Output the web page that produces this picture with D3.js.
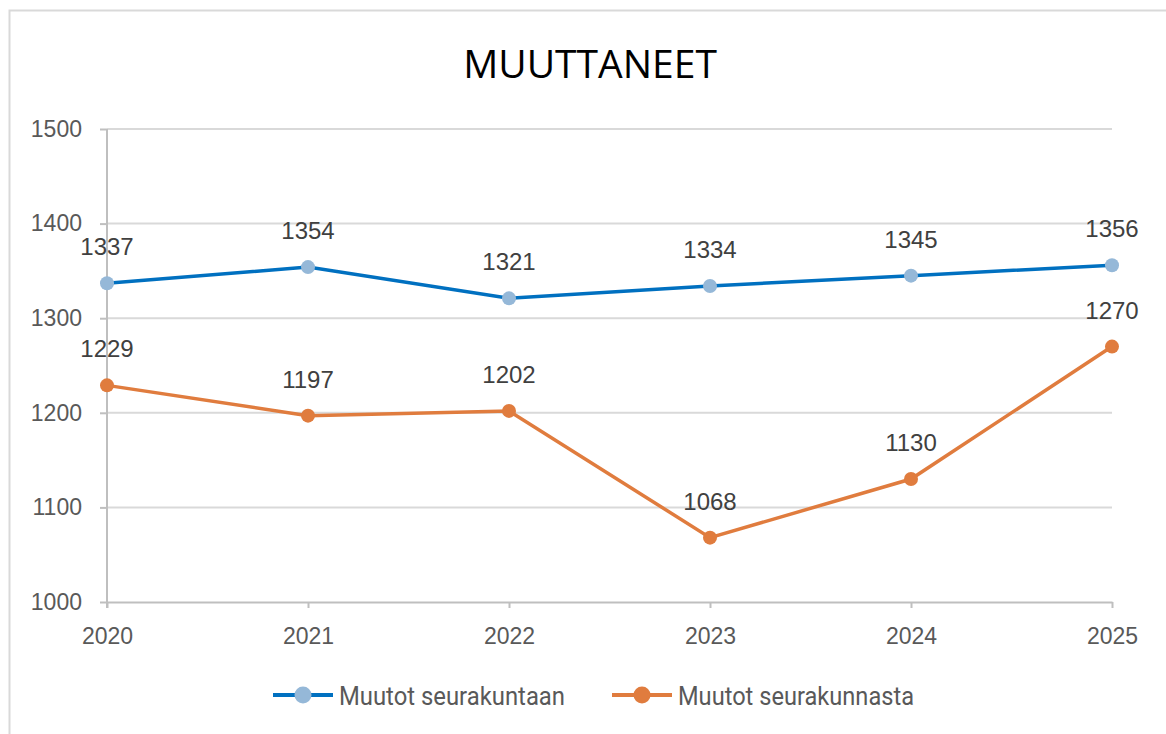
<!DOCTYPE html>
<html lang="fi">
<head>
<meta charset="UTF-8">
<title>MUUTTANEET</title>
<script src="https://d3js.org/d3.v7.min.js"></script>
<style>
  body { margin: 0; background: #fff; }
  svg { display: block; }
</style>
</head>
<body>
<div class="canvas"></div>
<script>
// data
const years = ['2020', '2021', '2022', '2023', '2024', '2025'];
const seurakuntaan = [1337, 1354, 1321, 1334, 1345, 1356];
const seurakunnasta = [1229, 1197, 1202, 1068, 1130, 1270];
const yTicks = [1000, 1100, 1200, 1300, 1400, 1500];
const seriesNames = ['Muutot seurakuntaan', 'Muutot seurakunnasta'];

const width = 1166, height = 734;
const [mt, mr, mb, ml] = [129, 54, 132, 107];
const gw = width - ml - mr;
const gh = height - mt - mb;

const svg = d3.select('.canvas').append('svg')
  .attr('width', width).attr('height', height);

// chart border (only top + left fall inside the window)
svg.append('rect')
  .attr('x', 9.5).attr('y', 10.5)
  .attr('width', 1170).attr('height', 740)
  .attr('fill', 'none').attr('stroke', '#d9d9d9').attr('stroke-width', 2);

svg.append('text')
  .attr('x', 590).attr('y', 78)
  .attr('text-anchor', 'middle')
  .attr('font-family', 'Open Sans, DejaVu Sans, sans-serif')
  .attr('font-size', 39)
  .attr('fill', '#000')
  .text('MUUTTANEET');

const g = svg.append('g').attr('transform', `translate(${ml},${mt})`);

const x = d3.scalePoint().domain(years).range([0, gw]);
const y = d3.scaleLinear().domain([1000, 1500]).range([gh, 0]);

// gridlines
g.append('g').selectAll('line').data(yTicks.slice(1)).join('line')
  .attr('x1', 0).attr('x2', gw)
  .attr('y1', d => y(d)).attr('y2', d => y(d))
  .attr('stroke', '#d9d9d9').attr('stroke-width', 2);

// axes
const yAxisG = g.append('g')
  .call(d3.axisLeft(y).tickValues(yTicks).tickFormat(d3.format('d')).tickSize(7).tickPadding(18));
const xAxisG = g.append('g').attr('transform', `translate(0,${gh})`)
  .call(d3.axisBottom(x).tickSize(6).tickPadding(20).tickSizeOuter(0));

[yAxisG, xAxisG].forEach(a => {
  a.selectAll('path, line').attr('stroke', '#bfbfbf').attr('stroke-width', 2);
  a.selectAll('text')
    .attr('font-family', 'Liberation Sans, Arial, sans-serif')
    .attr('font-size', 23).attr('fill', '#595959');
});
yAxisG.select('.domain').attr('d', `M0,0V${gh + 6}`);

const series = [
  { name: seriesNames[0], values: seurakuntaan, line: '#0070c0', dot: '#95b8d8' },
  { name: seriesNames[1], values: seurakunnasta, line: '#e07c3e', dot: '#e07c3e' }
];

const lineGen = d3.line().x((d, i) => x(years[i])).y(d => y(d));

series.forEach(s => {
  g.append('path').datum(s.values)
    .attr('d', lineGen)
    .attr('fill', 'none').attr('stroke', s.line).attr('stroke-width', 3.5);
  g.selectAll(null).data(s.values).join('circle')
    .attr('cx', (d, i) => x(years[i])).attr('cy', d => y(d))
    .attr('r', 7).attr('fill', s.dot);
  g.selectAll(null).data(s.values).join('text')
    .attr('x', (d, i) => x(years[i])).attr('y', d => y(d) - 28)
    .attr('text-anchor', 'middle')
    .attr('font-family', 'Liberation Sans, Arial, sans-serif')
    .attr('font-size', 24).attr('fill', '#404040')
    .text(d => d);
});

// legend
const legend = svg.append('g').attr('transform', 'translate(0,695)');
const legX = [273, 612];
const legLen = [226, 236];
series.forEach((s, i) => {
  const lg = legend.append('g').attr('transform', `translate(${legX[i]},0)`);
  lg.append('line').attr('x1', 0).attr('x2', 60).attr('y1', 0).attr('y2', 0)
    .attr('stroke', s.line).attr('stroke-width', 4);
  lg.append('circle').attr('cx', 30).attr('cy', 0).attr('r', 8.5).attr('fill', s.dot);
  lg.append('text').attr('x', 66).attr('y', 10)
    .attr('font-family', 'Roboto, sans-serif')
    .attr('font-size', 25).attr('fill', '#595959')
    .attr('textLength', legLen[i]).attr('lengthAdjust', 'spacingAndGlyphs')
    .text(s.name);
});
</script>
</body>
</html>
